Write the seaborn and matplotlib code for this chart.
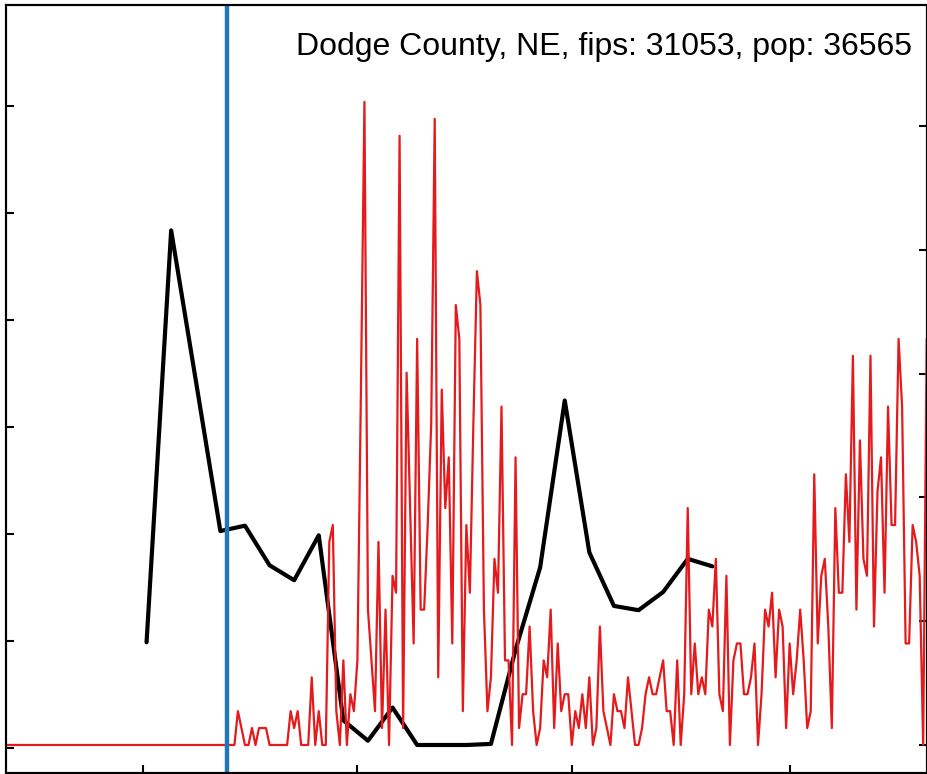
import numpy as np
import pandas as pd
import seaborn as sns
import matplotlib.pyplot as plt
import matplotlib.dates as mdates
from matplotlib.ticker import MultipleLocator

title = "Dodge County, NE, fips: 31053, pop: 36565"
population = 36565

# daily new cases, starting 2020-01-22
first_day = "2020-01-22"
daily_cases = [0] * 66 + [
    2, 1, 0, 0, 1, 0, 1, 1, 1, 0,            # d66-75
    0, 0, 0, 0, 0, 2, 1, 2, 0, 0,            # d76-85
    0, 4, 0, 2, 0, 0, 12, 13, 2, 0,          # d86-95
    5, 0, 3, 2, 5, 21, 38, 8, 5, 2,          # d96-105
    12, 1, 8, 0, 10, 9, 36, 1, 22, 14,       # d106-115
    6, 24, 8, 8, 13, 19, 37, 4, 21, 14,      # d116-125
    17, 6, 26, 24, 2, 13, 9, 19, 28, 26,     # d126-135
    8, 2, 4, 11, 9, 20, 5, 5, 0, 17,         # d136-145
    1, 3, 3, 7, 2, 0, 1, 5, 4, 8,            # d146-155
    1, 6, 2, 3, 3, 0, 2, 1, 3, 1,            # d156-165
    4, 0, 1, 7, 2, 1, 0, 3, 2, 2,            # d166-175
    1, 4, 2, 0, 0, 1, 3, 4, 3, 3,            # d176-185
    4, 5, 2, 2, 0, 5, 0, 3, 14, 3,           # d186-195
    6, 3, 4, 3, 8, 7, 11, 3, 2, 10,          # d196-205
    0, 5, 6, 6, 3, 3, 4, 6, 0, 3,            # d206-215
    8, 7, 9, 4, 8, 7, 1, 6, 3, 5,            # d216-225
    8, 5, 1, 2, 16, 6, 10, 11, 7, 1,         # d226-235
    14, 9, 9, 16, 12, 23, 8, 18, 11, 10,     # d236-245
    23, 7, 15, 17, 9, 20, 13, 13, 24, 20,    # d246-255
    6, 6, 13, 12, 10, 0, 24,                 # d256-262
]

# weekly series (left axis)
first_week = "2020-03-02"
weekly_values = [0.99, 4.84, 3.44, 2.03, 2.08, 1.71, 1.57, 1.99, 0.26, 0.07,
                 0.38, 0.03, 0.03, 0.03, 0.04, 0.92, 1.69, 3.25, 1.83, 1.33,
                 1.29, 1.46, 1.77, 1.70]

marker_date = "2020-03-25"

daily = pd.DataFrame({
    "date": pd.date_range(first_day, periods=len(daily_cases), freq="D"),
    "per100k": np.array(daily_cases) * 100000 / population,
})
weekly = pd.DataFrame({
    "date": pd.date_range(first_week, periods=len(weekly_values), freq="7D"),
    "value": weekly_values,
})

sns.set_style("white")
plt.rcParams["font.family"] = ["Liberation Sans", "DejaVu Sans"]

fig = plt.figure(figsize=(9.28, 7.74), dpi=100)
ax = fig.add_axes([6 / 928, 1.3 / 774, 920.7 / 928, 767.7 / 774])
ax2 = ax.twinx()

sns.lineplot(data=weekly, x="date", y="value", ax=ax, color="black", lw=3)
sns.lineplot(data=daily, x="date", y="per100k", ax=ax2, color="#e41a1c", lw=1.6)
ax2.axvline(pd.Timestamp(marker_date), color="#1f78b4", lw=3.2)

ax.set_xlim(daily["date"].iloc[0], daily["date"].iloc[-1])
ax.set_ylim(-0.229, 6.947)
ax2.set_ylim(-4.48, 119.6)
ax.yaxis.set_major_locator(MultipleLocator(1))
ax2.yaxis.set_major_locator(MultipleLocator(20))
ax.xaxis.set_major_locator(mdates.MonthLocator(bymonth=[3, 5, 7, 9]))

for a in (ax, ax2):
    a.set_xlabel("")
    a.set_ylabel("")
    a.tick_params(direction="in", length=6, width=1.5, color="black",
                  labelleft=False, labelright=False, labelbottom=False)
    for s in a.spines.values():
        s.set_color("black")
        s.set_linewidth(1.5)
ax.tick_params(left=True, bottom=True, right=False, top=False)
ax2.tick_params(left=False, bottom=False, top=False, right=True)

ax.text(0.984, 0.935, title, transform=ax.transAxes, ha="right",
        va="baseline", fontsize=23, color="black")

fig.savefig("out.png", dpi=100)
